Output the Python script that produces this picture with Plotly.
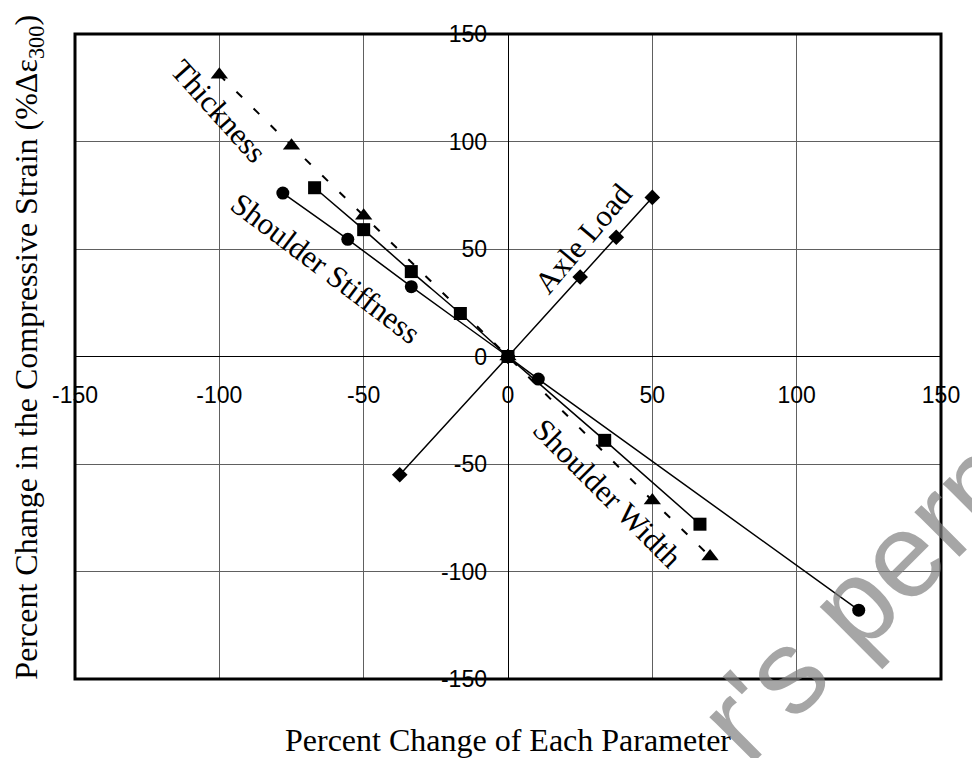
import plotly.graph_objects as go

# ---- data ----
thick_x = [-100, -75, -50, 0, 50, 70]
thick_y = [131, 98, 65.5, 0, -67, -93]

width_x = [-67, -50, -33.5, -16.5, 0, 33.5, 66.5]
width_y = [78.5, 59, 39.5, 20, 0, -39, -78]

stiff_x = [-78, -55.5, -33.5, 0, 10.5, 121.5]
stiff_y = [76, 54.5, 32.5, 0, -10.5, -118]

axle_x = [-37.5, 0, 25, 37.5, 50]
axle_y = [-55, 0, 37, 55.5, 74]

tick_vals = [-150, -100, -50, 0, 50, 100, 150]
tick_text = ["-150", "-100", "-50", "0", "50", "100", "150"]

SERIF = "Liberation Serif, Times New Roman, serif"
SANS = "Liberation Sans, Arial, sans-serif"

fig = go.Figure()

fig.add_trace(go.Scatter(
    x=thick_x, y=thick_y, mode="lines+markers", name="Thickness",
    line=dict(color="black", width=2, dash="8px,16px"),
    marker=dict(symbol="triangle-up", size=15, color="black")))
fig.add_trace(go.Scatter(
    x=width_x, y=width_y, mode="lines+markers", name="Shoulder Width",
    line=dict(color="black", width=1.5, shape="spline", smoothing=0.6),
    marker=dict(symbol="square", size=13, color="black")))
fig.add_trace(go.Scatter(
    x=stiff_x, y=stiff_y, mode="lines+markers", name="Shoulder Stiffness",
    line=dict(color="black", width=1.5, shape="spline", smoothing=0.6),
    marker=dict(symbol="circle", size=13, color="black")))
fig.add_trace(go.Scatter(
    x=axle_x, y=axle_y, mode="lines+markers", name="Axle Load",
    line=dict(color="black", width=1.5, shape="spline", smoothing=0.6),
    marker=dict(symbol="diamond", size=12, color="black")))

axis_common = dict(
    range=[-150, 150], tickmode="array", tickvals=tick_vals, ticktext=tick_text,
    showgrid=True, gridcolor="#606060", gridwidth=1,
    zeroline=True, zerolinecolor="black", zerolinewidth=1.2,
    showline=False, ticks="", anchor="free", position=0.5,
    tickfont=dict(family=SANS, size=23, color="black"), fixedrange=True,
)
fig.update_xaxes(**axis_common, ticklabelstandoff=22)
fig.update_yaxes(**axis_common, ticklabelstandoff=21)

lab_font = dict(family=SERIF, size=31, color="black")
annotations = [
    dict(text="Thickness", x=-100, y=114, xref="x", yref="y", textangle=48,
         font=lab_font, showarrow=False, xanchor="center", yanchor="middle"),
    dict(text="Shoulder Stiffness", x=-63, y=41, xref="x", yref="y", textangle=37,
         font=lab_font, showarrow=False, xanchor="center", yanchor="middle"),
    dict(text="Axle Load", x=26, y=55, xref="x", yref="y", textangle=-50,
         font=lab_font, showarrow=False, xanchor="center", yanchor="middle"),
    dict(text="Shoulder Width", x=34.6, y=-63.5, xref="x", yref="y", textangle=45,
         font=lab_font, showarrow=False, xanchor="center", yanchor="middle"),
    dict(text="Percent Change of Each Parameter", x=0.5, y=-0.094,
         xref="paper", yref="paper", showarrow=False,
         xanchor="center", yanchor="middle",
         font=dict(family=SERIF, size=32, color="black")),
    dict(text="Percent Change in the Compressive Strain (%Δε<sub>300</sub>)",
         x=-0.0533, y=0.515, xref="paper", yref="paper", textangle=-90,
         showarrow=False, xanchor="center", yanchor="middle",
         font=dict(family=SERIF, size=32, color="black")),
    dict(text="r's perm", x=0.919, y=0.144, xref="paper", yref="paper",
         textangle=-45, showarrow=False, xanchor="center", yanchor="middle",
         font=dict(family=SANS, size=120, color="rgba(128,128,128,0.7)")),
]

fig.update_layout(
    width=972, height=758,
    margin=dict(l=75, r=23, t=34, b=79),
    plot_bgcolor="white", paper_bgcolor="white",
    showlegend=False, annotations=annotations,
    shapes=[dict(type="rect", xref="paper", yref="paper", x0=0, x1=1, y0=0, y1=1,
                 line=dict(color="black", width=3), layer="above")],
)

fig.write_html("out.html")
